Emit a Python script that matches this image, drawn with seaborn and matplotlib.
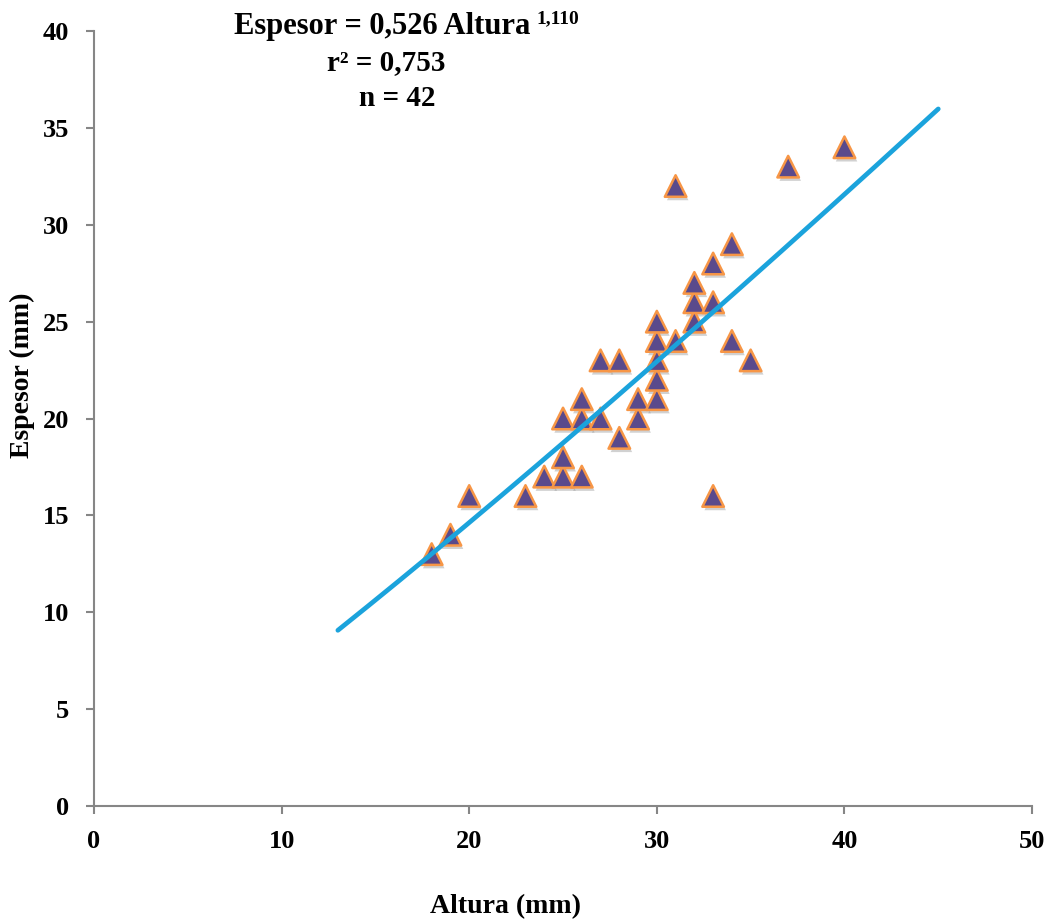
import numpy as np
import pandas as pd
import matplotlib
matplotlib.use("Agg")
import matplotlib.pyplot as plt
import matplotlib.patheffects as pe
import seaborn as sns

# Measured shell height vs thickness (mm)
altura = [18, 19, 20, 23, 24, 25, 25, 25, 26, 26, 26, 27, 27, 28, 28, 29, 29,
          30, 30, 30, 30, 30, 31, 31, 32, 32, 32, 33, 33, 33, 34, 34, 35, 37, 40]
espesor = [13, 14, 16, 16, 17, 17, 18, 20, 17, 20, 21, 20, 23, 19, 23, 20, 21,
           21, 22, 23, 24, 25, 24, 32, 25, 26, 27, 26, 28, 16, 24, 29, 23, 33, 34]

# Power-law fit: Espesor = a * Altura^b
coef_a = 0.526
coef_b = 1.110
r2 = 0.753
n_obs = 42
fit_range = [13, 45]

x_ticks = [0, 10, 20, 30, 40, 50]
y_ticks = [0, 5, 10, 15, 20, 25, 30, 35, 40]


def comma(v, nd=3):
    return f"{v:.{nd}f}".replace(".", ",")


sns.set_theme(style="white")
plt.rcParams["font.family"] = ["Liberation Serif", "DejaVu Serif"]
plt.rcParams["text.color"] = "black"

fig = plt.figure(figsize=(10.51, 9.21), dpi=100)
ax = fig.add_axes([0.0894, 0.1249, 0.8926, 0.8414])

df = pd.DataFrame({"Altura": altura, "Espesor": espesor})
xf = np.linspace(fit_range[0], fit_range[1], 200)
fit = pd.DataFrame({"Altura": xf, "Espesor": coef_a * xf ** coef_b})

sns.scatterplot(data=df, x="Altura", y="Espesor", ax=ax, marker="^",
                s=240, color="#5a4a8c", edgecolor="#f79646",
                linewidth=1.8, zorder=3)
ax.collections[-1].set_path_effects([
    pe.SimplePatchShadow(offset=(1.5, -2.5), shadow_rgbFace="#999999", alpha=0.45),
    pe.Normal()])

sns.lineplot(data=fit, x="Altura", y="Espesor", ax=ax, color="#1ba3dc",
             linewidth=3.4, zorder=4)

ax.set_xlim(0, 50)
ax.set_ylim(0, 40)
ax.set_xticks(x_ticks)
ax.set_yticks(y_ticks)
ax.set_xlabel("")
ax.set_ylabel("")

for side in ["top", "right"]:
    ax.spines[side].set_visible(False)
for side in ["left", "bottom"]:
    ax.spines[side].set_color("#868686")
    ax.spines[side].set_linewidth(1.5)

ax.tick_params(axis="both", direction="out", length=6, width=1.5,
               color="#868686", labelsize=19, labelcolor="black",
               bottom=True, left=True)
ax.tick_params(axis="x", pad=11)
ax.tick_params(axis="y", pad=12)
for lab in ax.get_xticklabels() + ax.get_yticklabels():
    lab.set_fontweight("bold")

fig.text(0.481, 0.016, "Altura (mm)", ha="center", va="center",
         fontsize=20, fontweight="bold")
fig.text(0.021, 0.593, "Espesor (mm)", ha="center", va="center",
         rotation=90, fontsize=20, fontweight="bold")

fig.text(0.505, 0.971, f"Espesor = {comma(coef_a)} Altura", ha="right",
         va="center", fontsize=22, fontweight="bold")
fig.text(0.510, 0.980, comma(coef_b), ha="left", va="center",
         fontsize=14, fontweight="bold")
fig.text(0.367, 0.932, f"r² = {comma(r2)}", ha="center", va="center",
         fontsize=21, fontweight="bold")
fig.text(0.378, 0.893, f"n = {n_obs}", ha="center", va="center",
         fontsize=21, fontweight="bold")

fig.savefig("out.png", dpi=100)
